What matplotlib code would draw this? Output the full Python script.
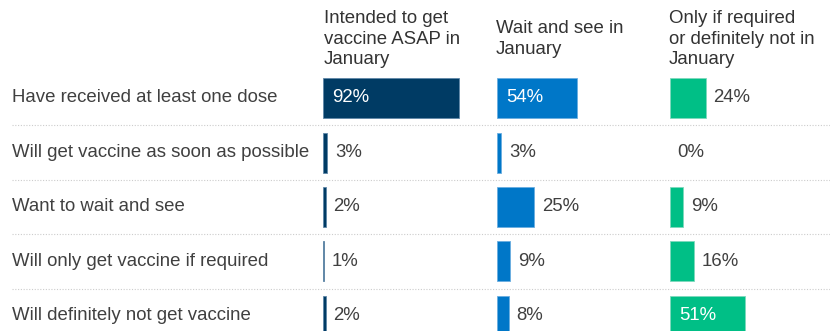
import matplotlib
matplotlib.use("Agg")
import matplotlib.pyplot as plt

plt.rcParams['font.family'] = ['Liberation Sans', 'DejaVu Sans']

categories = [
    "Have received at least one dose",
    "Will get vaccine as soon as possible",
    "Want to wait and see",
    "Will only get vaccine if required",
    "Will definitely not get vaccine",
]
groups = [
    "Intended to get\nvaccine ASAP in\nJanuary",
    "Wait and see in\nJanuary",
    "Only if required\nor definitely not in\nJanuary",
]
asap_values = [92, 3, 2, 1, 2]
wait_values = [54, 3, 25, 9, 8]
notreq_values = [24, 0, 9, 16, 51]
series = [asap_values, wait_values, notreq_values]
colors = ["#003B64", "#0077C8", "#00BF86"]
edge_colors = ["#5f87a8", "#6aaee0", "#7ed9bd"]
inside_threshold = 40

W, H = 830, 331
fig = plt.figure(figsize=(W / 100, H / 100), dpi=100)

# vertical geometry in pixels
ax_top_px = 70
row0_px = 98
row_px = 54.5
ax_h_px = H - ax_top_px
y_top = -(row0_px - ax_top_px) / row_px
y_bot = y_top + ax_h_px / row_px
ax_rect_y = 0
ax_rect_h = ax_h_px / H

text_color = "#404040"
fs = 13.4

# background axes for labels and separators
bg = fig.add_axes([0, ax_rect_y, 1, ax_rect_h])
bg.set_xlim(0, 1)
bg.set_ylim(y_bot, y_top)
bg.axis("off")
for i in range(len(categories) - 1):
    bg.plot([12 / W, 1], [i + 0.5, i + 0.5], color="#cccccc", lw=0.8,
            ls=(0, (1, 1.5)))
for i, c in enumerate(categories):
    bg.text(12 / W, i, c, ha="left", va="center", fontsize=fs, color=text_color)

panel_left_px = [323, 497, 670]
header_x_px = [323.5, 496, 669]
px_per_pct = 1.48
panel_w_px = 160
for k, (vals, col) in enumerate(zip(series, colors)):
    ax = fig.add_axes([panel_left_px[k] / W, ax_rect_y, panel_w_px / W, ax_rect_h])
    ax.set_xlim(0, panel_w_px / px_per_pct)
    ax.set_ylim(y_bot, y_top)
    ax.axis("off")
    ax.barh(range(len(vals)), vals, height=40 / row_px, color=col, left=0,
            edgecolor=[edge_colors[k] if v > 0 else "none" for v in vals],
            linewidth=0.6)
    for i, v in enumerate(vals):
        if v >= inside_threshold:
            ax.annotate(f"{v}%", (0, i), xytext=(6.5, 0), textcoords="offset points",
                        ha="left", va="center", fontsize=fs, color="white")
        else:
            ax.annotate(f"{v}%", (v, i), xytext=(5.5, 0), textcoords="offset points",
                        ha="left", va="center", fontsize=fs, color=text_color)
    fig.text(header_x_px[k] / W, 1 - 39 / H, groups[k], ha="left", va="center",
             fontsize=fs, color="#333333", linespacing=1.28)

fig.savefig("out.png", dpi=100)
